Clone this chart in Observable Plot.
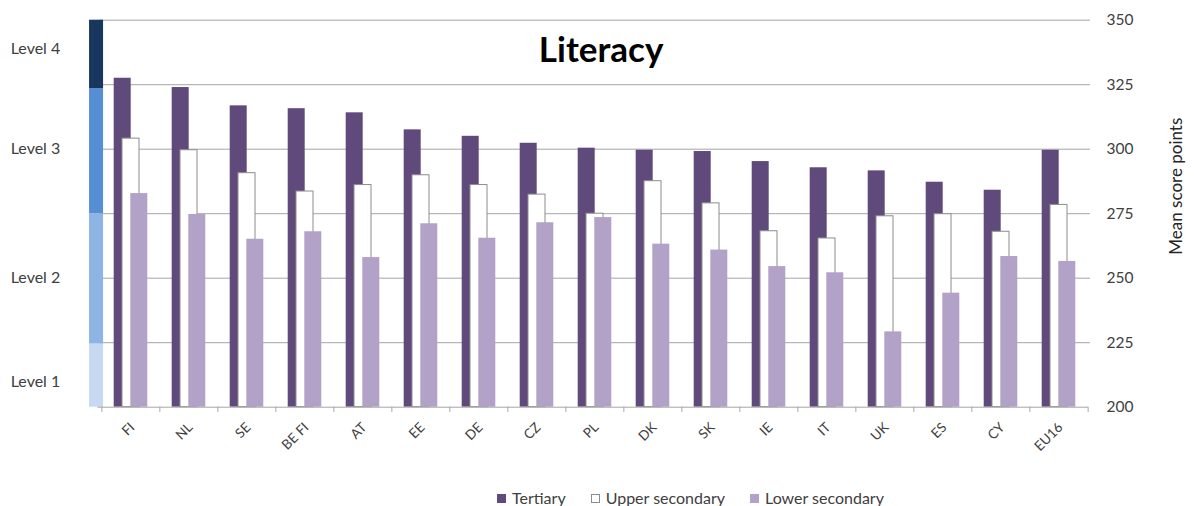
<!DOCTYPE html>
<html><head><meta charset="utf-8">
<script src="https://cdn.jsdelivr.net/npm/d3@7"></script>
<script src="https://cdn.jsdelivr.net/npm/@observablehq/plot@0.6"></script>
<style>
body{margin:0;background:#fff;font-family:Lato,sans-serif;}
#chart{position:relative;width:1194px;height:506px;overflow:hidden;}
.legend{position:absolute;top:488px;left:497px;display:flex;align-items:center;font-size:16px;color:#404040;line-height:20px;}
.item{display:flex;align-items:center;margin-right:25px;}
.sw{width:9px;height:9px;margin-right:6px;box-sizing:border-box;}
</style></head><body><div id="chart"></div>
<script>
const countries = ["FI","NL","SE","BE FI","AT","EE","DE","CZ","PL","DK","SK","IE","IT","UK","ES","CY","EU16"];
const tertiary = [327.5,323.9,316.8,315.7,314.1,307.5,305,302.3,300.4,299.6,299.1,295.2,292.8,291.6,287.2,284.1,299.6];
const upperSecondary = [304.1,299.6,290.7,283.6,286.1,289.9,286.1,282.4,275,287.6,279,268.2,265.4,274,274.8,268,278.4];
const lowerSecondary = [282.8,274.7,265.1,268,258,271.1,265.5,271.5,273.5,263.2,260.9,254.5,252.1,229.2,244.2,258.4,256.5];
const yTicks = [200,225,250,275,300,325,350];
const levelNames = ["Level 1","Level 2","Level 3","Level 4"];
const levelFrom = [200,224.5,275,323.5];
const levelTo = [224.5,275,323.5,350];
const levelLabelAt = [210,250,300.3,339];
const levelColors = ["#C6D9F1","#8EB4E3","#558ED5","#17375E"];
const seriesNames = ["Tertiary","Upper secondary","Lower secondary"];
const seriesFill = ["#604A7B","#FFFFFF","#B3A2C7"];
const seriesStroke = ["none","#8C8C8C","none"];
const seriesValues = [tertiary, upperSecondary, lowerSecondary];

const W = 1194, H = 484, mL = 99.3, mR = 104, mT = 19.7, mB = 77.3;
const step = (W - mL - mR) / countries.length;
const barW = 17;
const offsets = [-8.3, 0, 8.3];
const base = yTicks[0];

const levels = levelNames.map((n, i) => ({name: n, y1: levelFrom[i], y2: levelTo[i], fill: levelColors[i], at: levelLabelAt[i]}));

const barMarks = seriesNames.map((s, si) =>
  Plot.barY(countries.map((c, i) => ({country: c, value: seriesValues[si][i]})), {
    x: "country", y1: () => base, y2: "value",
    fill: seriesFill[si], stroke: seriesStroke[si], strokeWidth: 1,
    dx: offsets[si]
  })
);

const grid = "#A6A6A6";
const chart = Plot.plot({
  width: W, height: H,
  marginLeft: mL, marginRight: mR, marginTop: mT, marginBottom: mB,
  style: {fontFamily: "Lato, sans-serif", color: "#404040", background: "white", overflow: "visible"},
  x: {type: "band", domain: countries, paddingInner: 1 - barW / step, paddingOuter: (1 - barW / step) / 2, axis: null},
  y: {domain: [200, 350], axis: null},
  marks: [
    Plot.ruleY(yTicks.slice(1), {y: d => d, stroke: grid, strokeWidth: 1}),
    Plot.barY(levels, {x: () => countries[0], y1: "y1", y2: "y2", fill: "fill", dx: 94 - (mL + step / 2), insetLeft: 1.5, insetRight: 1.5}),
    ...barMarks,
    Plot.ruleY([base], {y: d => d, stroke: grid, strokeWidth: 1, dx: -2}),
    Plot.ruleX(countries, {x: d => d, dx: -step / 2, y1: base, y2: base - 2, stroke: grid}),
    Plot.ruleX([countries[countries.length - 1]], {x: d => d, dx: step / 2, y1: base, y2: base - 2, stroke: grid}),
    Plot.text(countries, {x: d => d, frameAnchor: "bottom", rotate: -45, textAnchor: "end", lineAnchor: "bottom", dx: 4.5, dy: 21, fontSize: 13.5, fill: "#404040"}),
    Plot.axisY(yTicks, {anchor: "right", tickSize: 0, tickPadding: 16, fontSize: 15.5, label: null}),
    Plot.text(levels, {y: "at", text: "name", frameAnchor: "left", dx: 35 - mL, textAnchor: "middle", lineAnchor: "middle", fontSize: 16, fill: "#404040"}),
    Plot.text(["Literacy"], {frameAnchor: "top", dy: 31, dx: 6, textAnchor: "middle", lineAnchor: "middle", fontSize: 35, fontWeight: "bold", fill: "black"}),
    Plot.text(["Mean score points"], {frameAnchor: "top-right", dx: 86, dy: 166, rotate: -90, textAnchor: "middle", lineAnchor: "middle", fontSize: 17, fill: "#262626"})
  ]
});
const root = document.getElementById("chart");
root.appendChild(chart);

const legend = document.createElement("div");
legend.className = "legend";
seriesNames.forEach((s, i) => {
  const item = document.createElement("div");
  item.className = "item";
  const sw = document.createElement("span");
  sw.className = "sw";
  sw.style.background = seriesFill[i];
  sw.style.border = seriesStroke[i] === "none" ? "none" : "1px solid " + seriesStroke[i];
  const t = document.createElement("span");
  t.textContent = s;
  item.appendChild(sw); item.appendChild(t);
  legend.appendChild(item);
});
root.appendChild(legend);
</script></body></html>
